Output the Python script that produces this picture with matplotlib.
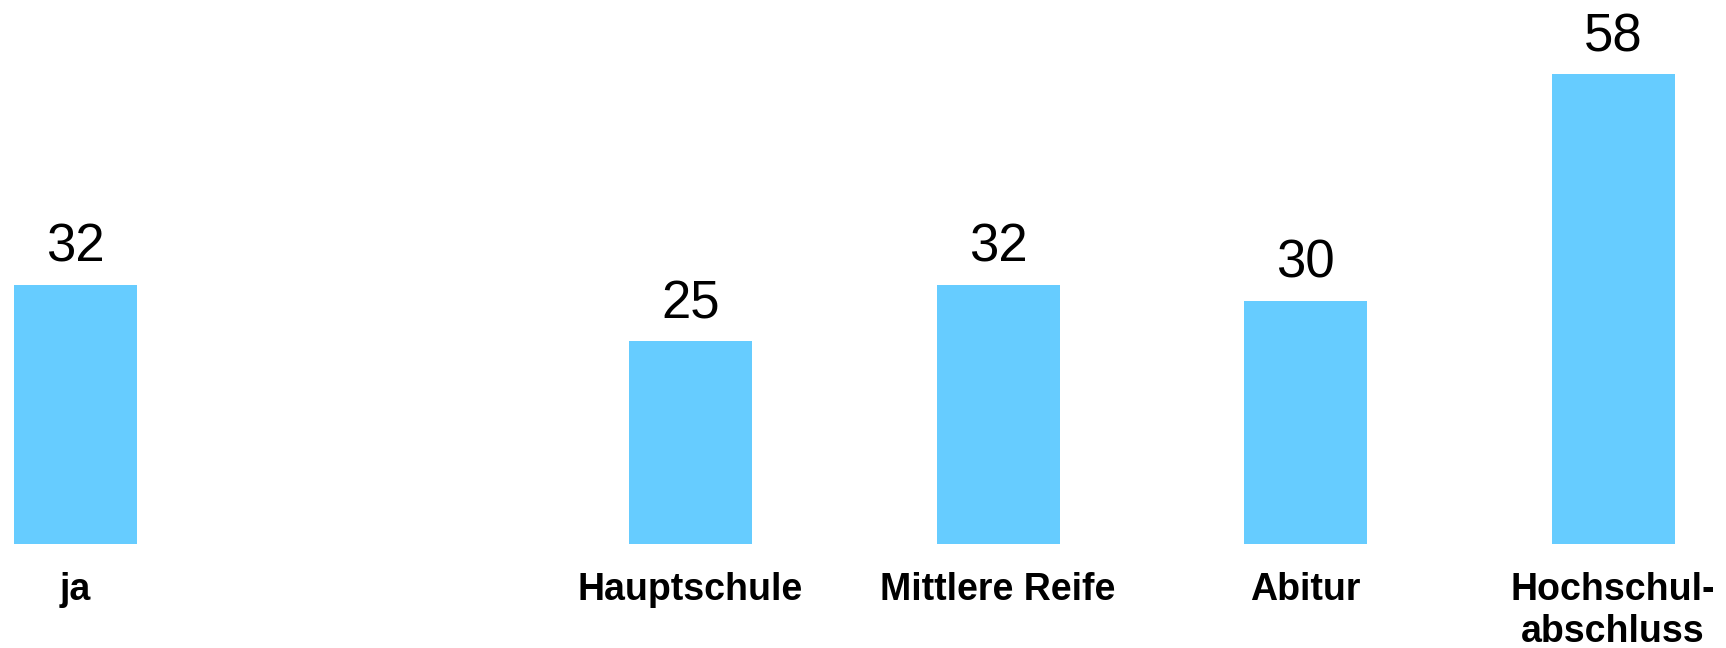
import matplotlib
matplotlib.use("Agg")
import matplotlib.pyplot as plt

# slot 1 is left empty between "ja" and the school-level group
positions = [0, 2, 3, 4, 5]
labels = ["ja", "Hauptschule", "Mittlere Reife", "Abitur", "Hochschul-\nabschluss"]
values = [32, 25, 32, 30, 58]

bar_color = "#66CCFF"

plt.rcParams["font.family"] = ["Liberation Sans", "DejaVu Sans"]

fig = plt.figure(figsize=(17.26, 6.48), dpi=100)
ax = fig.add_axes([0, 104 / 648, 1, 544 / 648])

ax.bar(positions, values, width=0.4, color=bar_color)

ax.set_xlim(-0.2455, 5.367)
ax.set_ylim(0, 67.13)
ax.axis("off")

for x, v, lab in zip(positions, values, labels):
    ax.annotate(str(v), (x, v), xytext=(0, 16.5), textcoords="offset points",
                ha="center", va="baseline", fontsize=38)
    ax.annotate(lab, (x, 0), xytext=(0, -20), textcoords="offset points",
                ha="center", va="top", fontsize=27, fontweight="bold",
                linespacing=1.22)

fig.savefig("out.png", dpi=100, facecolor="white")
